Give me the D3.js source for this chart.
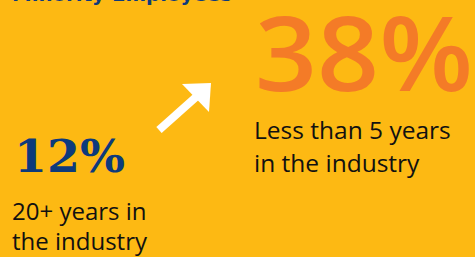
<!DOCTYPE html>
<html lang="en">
<head>
<meta charset="UTF-8">
<title>Minority Employees</title>
<script src="https://cdn.jsdelivr.net/npm/d3@7"></script>
<style>
  html, body { margin: 0; padding: 0; background: #fdb913; overflow: hidden; }
  .label { font-family: "Open Sans", "Noto Sans", sans-serif; fill: #111; }
</style>
</head>
<body>
<svg id="chart" width="475" height="257"></svg>
<script>
  // data
  const title = "Minority Employees";
  const groups = ["20+ years", "Less than 5 years"];
  const percents = [12, 38];
  const captions = [
    ["20+ years in", "the industry"],
    ["Less than 5 years", "in the industry"]
  ];

  const svg = d3.select('svg#chart');

  svg.append('rect')
    .attr('width', 475).attr('height', 257)
    .attr('fill', '#fdb913');

  // title, cut off at top of the frame
  svg.append('text')
    .attr('x', 12).attr('y', 1)
    .attr('font-family', 'DejaVu Sans, sans-serif')
    .attr('font-weight', 'bold')
    .attr('font-size', 19)
    .attr('textLength', 220)
    .attr('lengthAdjust', 'spacingAndGlyphs')
    .attr('fill', '#0d3a7c')
    .text(title);

  let colour = d3.scaleOrdinal().domain(groups).range(['#0d3a7c', '#f47b27']);
  let size = d3.scaleLinear().domain([12, 38]).range([44, 103]);

  // placement of each group
  let layout = {
    "20+ years": {x: 14, y: 172, w: 111, font: 'DejaVu Serif, serif', weight: 'bold',
                  cx: 12, cy: 220, lh: 30, cs: 24},
    "Less than 5 years": {x: 255, y: 91, w: 218, font: 'Open Sans, sans-serif', weight: 600,
                  cx: 254, cy: 139, lh: 33, cs: 24.5}
  };

  groups.forEach(function(g, i){
    let L = layout[g];
    svg.append('text')
      .attr('x', L.x).attr('y', L.y)
      .attr('font-family', L.font)
      .attr('font-weight', L.weight)
      .attr('font-size', size(percents[i]))
      .attr('textLength', L.w)
      .attr('lengthAdjust', 'spacingAndGlyphs')
      .attr('fill', colour(g))
      .text(percents[i] + '%');

    svg.append('g').selectAll('text')
      .data(captions[i])
      .enter()
      .append('text')
      .attr('class', 'label')
      .attr('x', L.cx)
      .attr('y', function(d, j){ return L.cy + j * L.lh; })
      .attr('font-size', L.cs)
      .text(function(d){ return d; });
  });

  // white arrow pointing up-right
  svg.append('line')
    .attr('x1', 159).attr('y1', 130)
    .attr('x2', 196).attr('y2', 97)
    .attr('stroke', '#fff')
    .attr('stroke-width', 8);
  svg.append('path')
    .attr('d', 'M182,84 L211,83 L209,112 Z')
    .attr('fill', '#fff');
</script>
</body>
</html>
